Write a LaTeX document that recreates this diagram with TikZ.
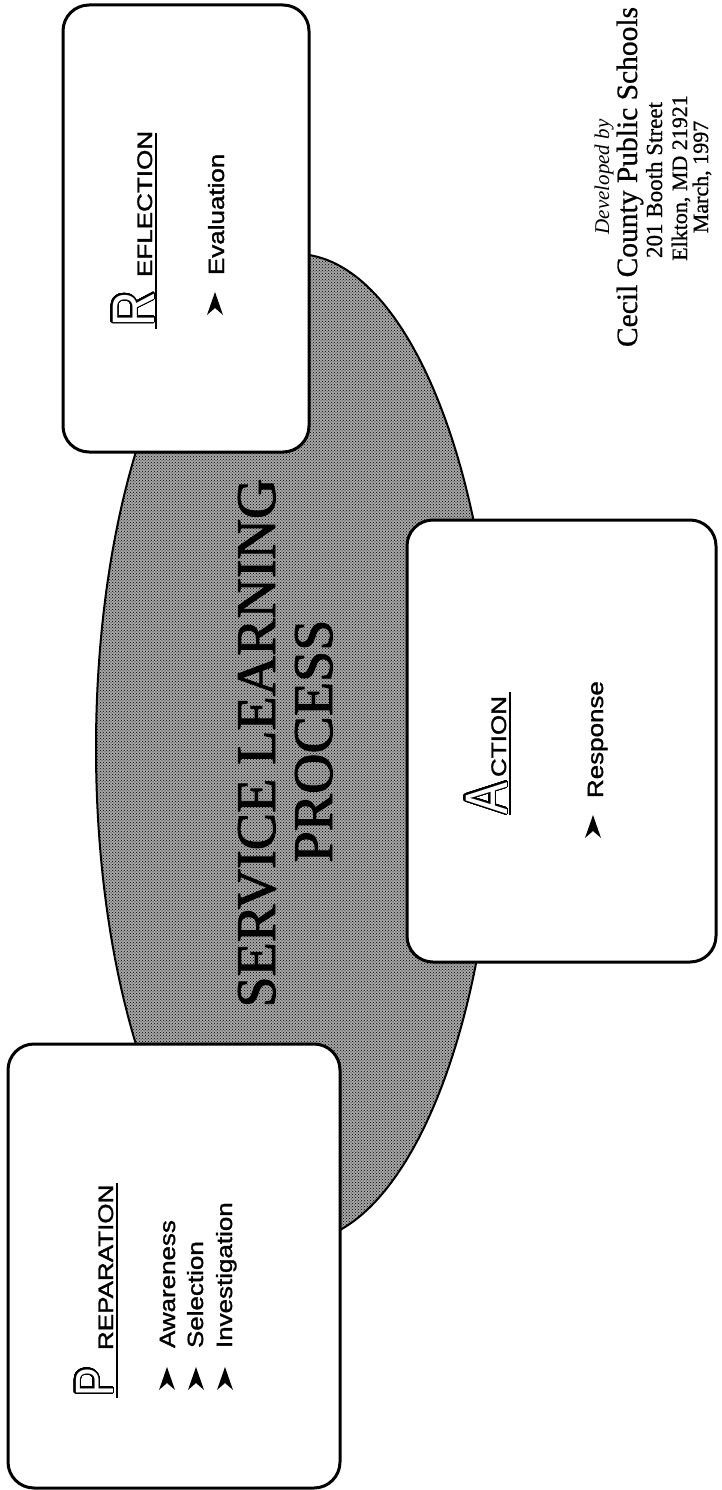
\documentclass[tikz,border=0pt]{standalone}
\usepackage{fontspec}
\setmainfont{Liberation Serif}
\setsansfont{Liberation Sans}
\newfontfamily\heavysans{Liberation Sans}[FakeBold=1.3]
\newfontfamily\heavyserif{Liberation Serif}[FakeBold=1.6]
\newfontfamily\credserif{Liberation Serif}[FakeBold=0.8]
\usepackage{contour}
\contourlength{1.6pt}
\contournumber{40}
\usetikzlibrary{patterns,shapes.geometric}
\tikzset{
  stagebox/.style={draw, line width=3pt, rounded corners=26pt, fill=white, rectangle, inner sep=0pt},
  rot/.style={rotate=90, inner sep=0pt, outer sep=0pt},
  bigletter/.style={rot, anchor=base west, font=\sffamily\fontsize{60}{60}\selectfont},
  heading/.style={rot, anchor=base west, font=\heavysans\fontsize{21}{24}\selectfont},
  item/.style={rot, anchor=base west, font=\heavysans\fontsize{22}{26}\selectfont},
  uline/.style={line width=2.5pt},
  bul/.pic={\fill (0,0) -- (8,23) -- (0,16) -- (-8,23) -- cycle;},
  title/.style={rot, anchor=base, font=\heavyserif\fontsize{56}{60}\selectfont},
  credit/.style={rot, anchor=base},
}
\newcommand{\outl}[1]{{\color{white}\contour{black}{#1}}}
\newcommand{\hs}[1]{\scalebox{1.24}[1]{#1}}
\newcommand{\is}[1]{\scalebox{1.18}[1]{#1}}
\newcommand{\ls}[1]{\scalebox{0.8}[1]{#1}}
\begin{document}
\begin{tikzpicture}[x=1pt,y=-1pt]
\useasboundingbox (0,0) rectangle (721,1490);
% central ellipse
\node[ellipse, draw, line width=2pt, minimum width=400pt, minimum height=988pt, inner sep=0pt,
      fill=black!35, postaction={pattern=crosshatch dots, pattern color=black}] (ell) at (296,748) {};
% title
\node[title] (t1) at (275,743) {SERVICE LEARNING};
\node[title] (t2) at (332,741) {PROCESS};
% boxes
\node[stagebox, minimum width=246pt, minimum height=447pt] (refl) at (186,228.5) {};
\node[stagebox, minimum width=309pt, minimum height=442pt] (act) at (561.5,741) {};
\node[stagebox, minimum width=332pt, minimum height=444pt] (prep) at (174,1266) {};
% Reflection
\node[bigletter] (rL) at (154,326) {\ls{\outl{R}}};
\node[heading] (rH) at (152,277) {\hs{EFLECTION}};
\draw[uline] (156,329) -- (156,133);
\pic at (215,292) {bul};
\node[item] (r1) at (224,275) {\is{Evaluation}};
% Action
\node[bigletter] (aL) at (507,814) {\ls{\outl{A}}};
\node[heading] (aH) at (506,777) {\hs{CTION}};
\draw[uline] (510,815) -- (510,692);
\pic at (593,815) {bul};
\node[item] (a1) at (603,798) {\is{Response}};
% Preparation
\node[bigletter, font=\sffamily\fontsize{54}{54}\selectfont] (pL) at (113,1396) {\ls{\outl{P}}};
\node[heading] (pH) at (113,1350) {\hs{REPARATION}};
\draw[uline] (117,1398) -- (117,1183);
\pic at (167,1367) {bul};
\pic at (196,1367) {bul};
\pic at (225,1367) {bul};
\node[item] (p1) at (175,1348) {\is{Awareness}};
\node[item] (p2) at (203,1348) {\is{Selection}};
\node[item] (p3) at (232,1348) {\is{Investigation}};
% credits
\node[credit, font=\rmfamily\itshape\fontsize{21}{24}\selectfont] (c1) at (609,177) {Developed by};
\node[credit, font=\credserif\fontsize{29.5}{32}\selectfont] (c2) at (637,177) {Cecil County Public Schools};
\node[credit, font=\credserif\fontsize{23}{26}\selectfont] (c3) at (662,180) {201 Booth Street};
\node[credit, font=\credserif\fontsize{22}{26}\selectfont] (c4) at (687,178) {Elkton, MD 21921};
\node[credit, font=\credserif\fontsize{22}{26}\selectfont] (c5) at (708,177) {March, 1997};
\end{tikzpicture}
\end{document}
